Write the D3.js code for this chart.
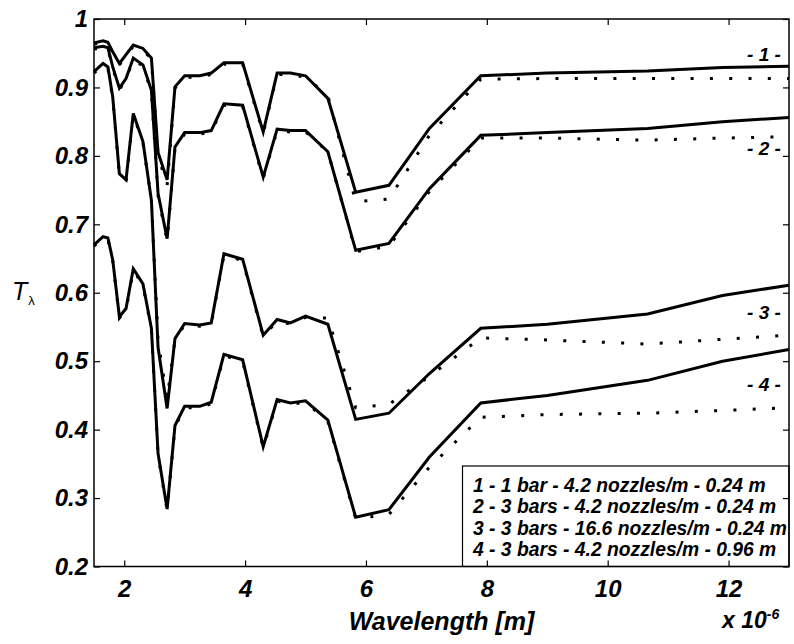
<!DOCTYPE html>
<html>
<head>
<meta charset="utf-8">
<script src="https://cdn.jsdelivr.net/npm/d3@7"></script>
<style>
  body { margin: 0; background: #fff; }
  text { font-family: "Liberation Sans", Arial, sans-serif; }
</style>
</head>
<body>
<script>
// wavelength in units of 1e-6 m
const wavelength = [1.5, 1.65, 1.73, 1.81, 1.92, 2.03, 2.15, 2.31, 2.45, 2.56, 2.71, 2.84, 3.0, 3.25, 3.44,
                    3.65, 3.96, 4.3, 4.53, 4.75, 5.0, 5.37, 5.83, 6.38, 7.05, 7.9, 9.0, 10.66, 11.9, 13.0];

// measured (solid)
const meas1 = [.965, .968, .966, .952, .935, .948, .962, .957, .943, .805, .765, .901, .917, .917, .921,
               .936, .936, .835, .921, .921, .917, .884, .747, .757, .840, .917, .921, .924, .929, .931];
const meas2 = [.958, .960, .958, .930, .899, .913, .943, .933, .896, .745, .679, .813, .834, .834, .837,
               .876, .874, .769, .839, .837, .837, .806, .662, .672, .752, .830, .834, .840, .850, .856];
const meas3 = [.923, .935, .930, .886, .774, .765, .862, .821, .735, .520, .431, .533, .555, .553, .556,
               .657, .649, .538, .561, .556, .566, .554, .415, .424, .482, .548, .554, .569, .596, .611];
const meas4 = [.670, .682, .680, .648, .565, .577, .635, .613, .548, .365, .284, .406, .434, .434, .440,
               .510, .502, .375, .444, .439, .442, .414, .272, .283, .360, .439, .450, .472, .500, .517];

// computed (dotted)
const calc1 = [.963, .966, .964, .950, .933, .946, .960, .955, .941, .800, .757, .899, .915, .915, .919,
               .934, .934, .833, .919, .919, .915, .888, .733, .737, .830, .912, .913, .913, .913, .913];
const calc2 = [.956, .958, .956, .928, .897, .911, .941, .931, .894, .742, .676, .811, .832, .832, .835,
               .874, .872, .767, .837, .835, .835, .806, .660, .668, .748, .826, .826, .823, .826, .828];
const calc3 = [.921, .933, .928, .884, .772, .763, .860, .819, .735, .530, .445, .531, .553, .551, .554,
               .655, .647, .536, .559, .554, .564, .563, .432, .437, .478, .534, .531, .525, .532, .538];
const calc4 = [.668, .680, .678, .646, .563, .575, .633, .611, .546, .363, .282, .404, .432, .432, .438,
               .508, .500, .373, .442, .437, .440, .412, .270, .276, .345, .418, .422, .424, .428, .432];

const xTicks = [2, 4, 6, 8, 10, 12];
const yTicks = [0.2, 0.3, 0.4, 0.5, 0.6, 0.7, 0.8, 0.9, 1];
const yTickLabels = ["0.2", "0.3", "0.4", "0.5", "0.6", "0.7", "0.8", "0.9", "1"];
const curveLabels = ["- 1 -", "- 2 -", "- 3 -", "- 4 -"];
const curveLabelY = [0.939, 0.801, 0.562, 0.457];
const legendLines = [
  "1 - 1 bar - 4.2 nozzles/m - 0.24 m",
  "2 - 3 bars - 4.2 nozzles/m - 0.24 m",
  "3 - 3 bars - 16.6 nozzles/m - 0.24 m",
  "4 - 3 bars - 4.2 nozzles/m - 0.96 m"
];

const W = 794, H = 644;
const pLeft = 94, pRight = 789, pTop = 19, pBottom = 566.5;

const svg = d3.select("body").append("svg")
  .attr("width", W).attr("height", H);

const x = d3.scaleLinear().domain([1.5, 13]).range([pLeft, pRight]);
const y = d3.scaleLinear().domain([0.2, 1]).range([pBottom, pTop]);

const line = d3.line()
  .x((d, i) => x(wavelength[i]))
  .y(d => y(d));

const plot = svg.append("g");

[calc1, calc2, calc3, calc4].forEach(s => {
  plot.append("path")
    .attr("d", line(s))
    .attr("fill", "none")
    .attr("stroke", "#000")
    .attr("stroke-width", 3)
    .attr("stroke-dasharray", "3,16.3");
});

[meas1, meas2, meas3, meas4].forEach(s => {
  plot.append("path")
    .attr("d", line(s))
    .attr("fill", "none")
    .attr("stroke", "#000")
    .attr("stroke-width", 3)
    .attr("stroke-linejoin", "miter");
});

const boldItalic = (sel, size) => sel
  .style("font-family", "'Liberation Sans', Arial, sans-serif")
  .style("font-size", size + "px")
  .style("font-weight", "bold")
  .style("font-style", "italic");

// curve labels
curveLabels.forEach((t, i) => {
  svg.append("text")
    .attr("x", 764).attr("y", y(curveLabelY[i]))
    .attr("text-anchor", "middle")
    .call(boldItalic, 19)
    .text(t);
});

// legend
const lg = svg.append("g");
lg.append("rect")
  .attr("x", 462.5).attr("y", 466)
  .attr("width", pRight - 462.5).attr("height", pBottom - 466)
  .attr("fill", "#fff").attr("stroke", "#000").attr("stroke-width", 1.2);
legendLines.forEach((t, i) => {
  lg.append("text")
    .attr("x", 473).attr("y", 492 + i * 21.3)
    .call(boldItalic, 19.3)
    .text(t);
});

// axes box + inward ticks
const axisStyle = g => {
  g.selectAll(".domain").remove();
  g.selectAll(".tick line").attr("stroke", "#000").attr("stroke-width", 1.2);
  g.selectAll("text").attr("fill", "#000").call(boldItalic, 24);
};

svg.append("g").attr("transform", `translate(0,${pBottom})`)
  .call(d3.axisBottom(x).tickValues(xTicks).tickSizeInner(-6).tickSizeOuter(0).tickPadding(13))
  .call(axisStyle);
svg.append("g").attr("transform", `translate(0,${pTop})`)
  .call(d3.axisTop(x).tickValues(xTicks).tickSizeInner(-6).tickSizeOuter(0).tickFormat(""))
  .call(axisStyle);
svg.append("g").attr("transform", `translate(${pLeft},0)`)
  .call(d3.axisLeft(y).tickValues(yTicks).tickSizeInner(-6).tickSizeOuter(0).tickPadding(6)
    .tickFormat((d, i) => yTickLabels[i]))
  .call(axisStyle);
svg.append("g").attr("transform", `translate(${pRight},0)`)
  .call(d3.axisRight(y).tickValues(yTicks).tickSizeInner(-6).tickSizeOuter(0).tickFormat(""))
  .call(axisStyle);

svg.append("rect")
  .attr("x", pLeft).attr("y", pTop)
  .attr("width", pRight - pLeft).attr("height", pBottom - pTop)
  .attr("fill", "none").attr("stroke", "#000").attr("stroke-width", 1.5);

// axis titles
svg.append("text")
  .attr("x", (pLeft + pRight) / 2).attr("y", 630)
  .attr("text-anchor", "middle")
  .call(boldItalic, 25)
  .text("Wavelength [m]");

const ex = svg.append("text")
  .attr("x", 722).attr("y", 628)
  .call(boldItalic, 23);
ex.append("tspan").text("x 10");
ex.append("tspan").style("font-size", "14px").attr("dy", -9).text("-6");

const tl = svg.append("text")
  .attr("x", 12).attr("y", 300)
  .style("font-size", "25px").style("font-style", "italic");
tl.append("tspan").text("T");
tl.append("tspan").style("font-size", "13px").style("font-style", "normal").attr("dy", 5).attr("dx", 1).text("λ");
</script>
</body>
</html>
